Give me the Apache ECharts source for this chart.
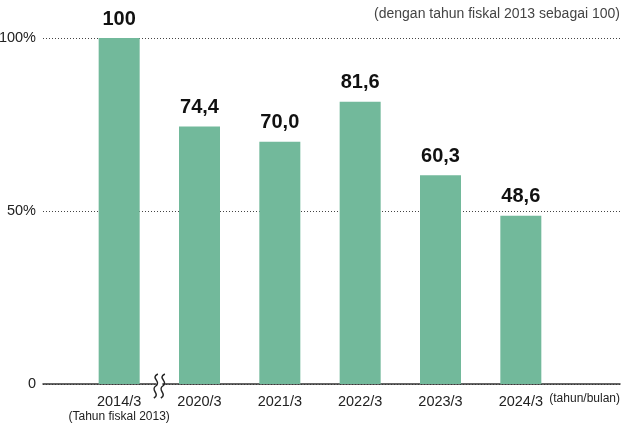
<!DOCTYPE html>
<html>
<head>
<meta charset="utf-8">
<script src="https://cdn.jsdelivr.net/npm/echarts@6/dist/echarts.min.js"></script>
<style>
  html, body { margin: 0; padding: 0; background: #fff; }
  #chart { width: 622px; height: 423px; }
</style>
</head>
<body>
<div id="chart"></div>
<script>
const categories = ['2014/3', '2020/3', '2021/3', '2022/3', '2023/3', '2024/3'];
const values = [100, 74.4, 70.0, 81.6, 60.3, 48.6];
const yTicks = { 0: '0', 50: '50%', 100: '100%' };

const font = '"Liberation Sans", Arial, sans-serif';
const chart = echarts.init(document.getElementById('chart'));

const option = {
    animation: false,
    textStyle: { fontFamily: font },
    grid: [
        { left: 43, right: 2, top: 38, bottom: 39, outerBoundsMode: 'none' },
        { left: 79, right: 61, top: 38, bottom: 39, outerBoundsMode: 'none' }
    ],
    xAxis: [
        {
            gridIndex: 0,
            type: 'value',
            min: 0, max: 1,
            axisLine: { show: true, onZero: false, lineStyle: { color: '#333', width: 1.5 } },
            axisTick: { show: false },
            axisLabel: { show: false },
            splitLine: { show: false }
        },
        {
            gridIndex: 1,
            type: 'category',
            data: categories,
            axisLine: { show: false },
            axisTick: { show: false },
            axisLabel: {
                interval: 0,
                color: '#222',
                fontSize: 14.5,
                margin: 10,
                lineHeight: 15,
                formatter: (v, i) => i === 0 ? v + '\n{sub|(Tahun fiskal 2013)}' : v,
                rich: { sub: { fontSize: 12, color: '#222', lineHeight: 15 } }
            }
        }
    ],
    yAxis: [
        {
            gridIndex: 0,
            type: 'value',
            min: 0, max: 100, interval: 50,
            axisLine: { show: false },
            axisTick: { show: false },
            axisLabel: {
                color: '#222',
                fontSize: 14.5,
                margin: 7,
                formatter: v => yTicks[v]
            },
            splitLine: { lineStyle: { color: '#444', type: [1, 2], width: 1 } }
        },
        {
            gridIndex: 1,
            type: 'value',
            min: 0, max: 100,
            show: false
        }
    ],
    series: [
        {
            type: 'bar',
            xAxisIndex: 1,
            yAxisIndex: 1,
            data: values,
            barWidth: 41,
            itemStyle: { color: '#72b99b' },
            z: 1,
            label: {
                show: true,
                position: 'top',
                distance: 9,
                color: '#111',
                fontSize: 20,
                fontWeight: 'bold',
                formatter: p => (p.value === 100 ? '100' : p.value.toFixed(1).replace('.', ','))
            }
        }
    ],
    graphic: [
        {
            type: 'text',
            right: 2, top: 7,
            style: { text: '(dengan tahun fiskal 2013 sebagai 100)', fill: '#444', fontSize: 14, fontFamily: font }
        },
        {
            type: 'text',
            right: 2, top: 393,
            style: { text: '(tahun/bulan)', fill: '#222', fontSize: 12, fontFamily: font }
        }
    ]
};

chart.setOption(option);

// axis break mark between the first two categories
const p0 = chart.convertToPixel({ xAxisIndex: 1 }, 0);
const p1 = chart.convertToPixel({ xAxisIndex: 1 }, 1);
const bx = (p0 + p1) / 2;
const by = chart.convertToPixel({ yAxisIndex: 1 }, 0);

function waveLine(dx) {
    const x = bx + dx;
    const st = { fill: null, stroke: '#222', lineWidth: 1.5 };
    return [
        {
            type: 'bezierCurve', z: 101,
            shape: { x1: x + 2, y1: by - 10, x2: x, y2: by + 2, cpx1: x - 6, cpy1: by - 6, cpx2: x + 6, cpy2: by - 3 },
            style: st
        },
        {
            type: 'bezierCurve', z: 101,
            shape: { x1: x, y1: by + 2, x2: x - 2, y2: by + 14, cpx1: x - 6, cpy1: by + 6, cpx2: x + 5, cpy2: by + 10 },
            style: st
        }
    ];
}

chart.setOption({
    graphic: option.graphic.concat(
        [{
            type: 'rect', z: 100,
            shape: { x: bx - 3, y: by - 3, width: 6, height: 6 },
            style: { fill: '#fff' }
        }],
        waveLine(-3.5),
        waveLine(3.5)
    )
});
</script>
</body>
</html>
